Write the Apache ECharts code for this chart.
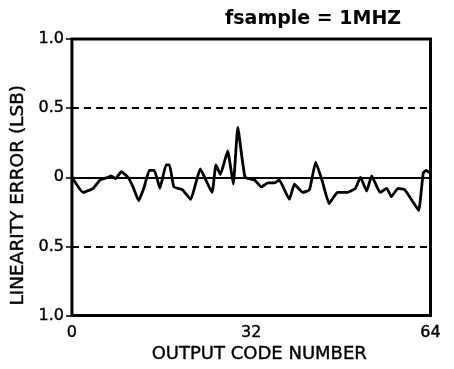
<!DOCTYPE html>
<html>
<head>
<meta charset="utf-8">
<script src="https://cdn.jsdelivr.net/npm/echarts@6/dist/echarts.min.js"></script>
<style>html,body{margin:0;padding:0;background:#fff}#c{width:454px;height:369px}</style>
</head>
<body>
<div id="c"></div>
<script>
const titleText = 'fsample = 1MHZ';
const xAxisName = 'OUTPUT CODE NUMBER';
const yAxisName = 'LINEARITY ERROR (LSB)';
const xTicks = [0, 32, 64];
const yTicks = [-1, -0.5, 0, 0.5, 1];
const codes = [0, 2, 3.8, 5, 6.5, 7, 7.8, 8.8, 10, 10.9, 11.9, 12.9, 13.8, 14.7, 15.7, 16.8, 17.4, 18.2, 19.7, 21.2, 22.9, 25, 25.7, 26.5, 27.8, 28.8, 29.6, 30.9, 32.6, 33.8, 35, 36.2, 37, 38.8, 39.7, 41.2, 42.4, 43.5, 44.7, 45.9, 47.4, 49.1, 50.6, 51.5, 52.6, 53.5, 55, 56.2, 57, 58.2, 59.4, 60.9, 61.9, 62.7, 63.2, 64];
const errors = [0, -0.11, -0.08, -0.02, 0.0, 0.01, -0.01, 0.04, 0, -0.07, -0.17, -0.07, 0.05, 0.05, -0.08, 0.09, 0.09, -0.07, -0.09, -0.16, 0.06, -0.11, 0.09, 0.02, 0.19, -0.05, 0.36, 0, -0.02, -0.07, -0.04, -0.04, -0.02, -0.16, -0.05, -0.11, -0.09, 0.11, -0.03, -0.19, -0.11, -0.11, -0.08, 0, -0.10, 0.01, -0.11, -0.08, -0.14, -0.08, -0.09, -0.18, -0.24, 0.03, 0.05, 0.03];
const refLines = [-0.5, 0.5];

const chart = echarts.init(document.getElementById('c'), null, {renderer: 'canvas'});
const font = 'DejaVu Sans, sans-serif';
const txt = (size, extra) => Object.assign({fontFamily: font, fontSize: size, color: '#000', textBorderColor: '#000', textBorderWidth: 0.4}, extra || {});
chart.setOption({
  animation: false,
  title: {text: titleText, left: 220, top: 5, textStyle: {fontFamily: font, fontSize: 19, fontWeight: 'bold', color: '#000'}},
  grid: {left: 70, right: 23.5, top: 39, bottom: 52, show: true, borderColor: '#000', borderWidth: 3, backgroundColor: 'transparent'},
  xAxis: {
    type: 'value', min: 0, max: 64, interval: 32,
    name: xAxisName, nameLocation: 'middle', nameGap: 29,
    nameTextStyle: txt(18, {padding: [0, 0, 0, 16]}),
    axisLine: {show: false}, axisTick: {show: false}, splitLine: {show: false},
    axisLabel: Object.assign(txt(16), {margin: 9, showMinLabel: true, showMaxLabel: true})
  },
  yAxis: {
    type: 'value', min: -1, max: 1, interval: 0.5,
    name: yAxisName, nameLocation: 'middle', nameGap: 30,
    nameTextStyle: txt(18.5, {padding: [0, 36, 0, 0]}),
    axisLine: {show: false}, splitLine: {show: false},
    axisTick: {show: true, inside: false, length: 6, lineStyle: {color: '#000', width: 1.5}},
    axisLabel: Object.assign(txt(16), {margin: 8,
      formatter: v => v === 0 ? '0' : Math.abs(v).toFixed(1)})
  },
  series: [{
    type: 'line', data: codes.map((c, i) => [c, errors[i]]),
    showSymbol: false, smooth: 0.12,
    lineStyle: {color: '#000', width: 2.8},
    markLine: {
      silent: true, symbol: 'none', label: {show: false},
      data: [
        {yAxis: 0, lineStyle: {type: 'solid', color: '#000', width: 2}},
        ...refLines.map(v => ({yAxis: v, lineStyle: {type: [7, 5], color: '#000', width: 1.8}}))
      ]
    }
  }]
});
</script>
</body>
</html>
